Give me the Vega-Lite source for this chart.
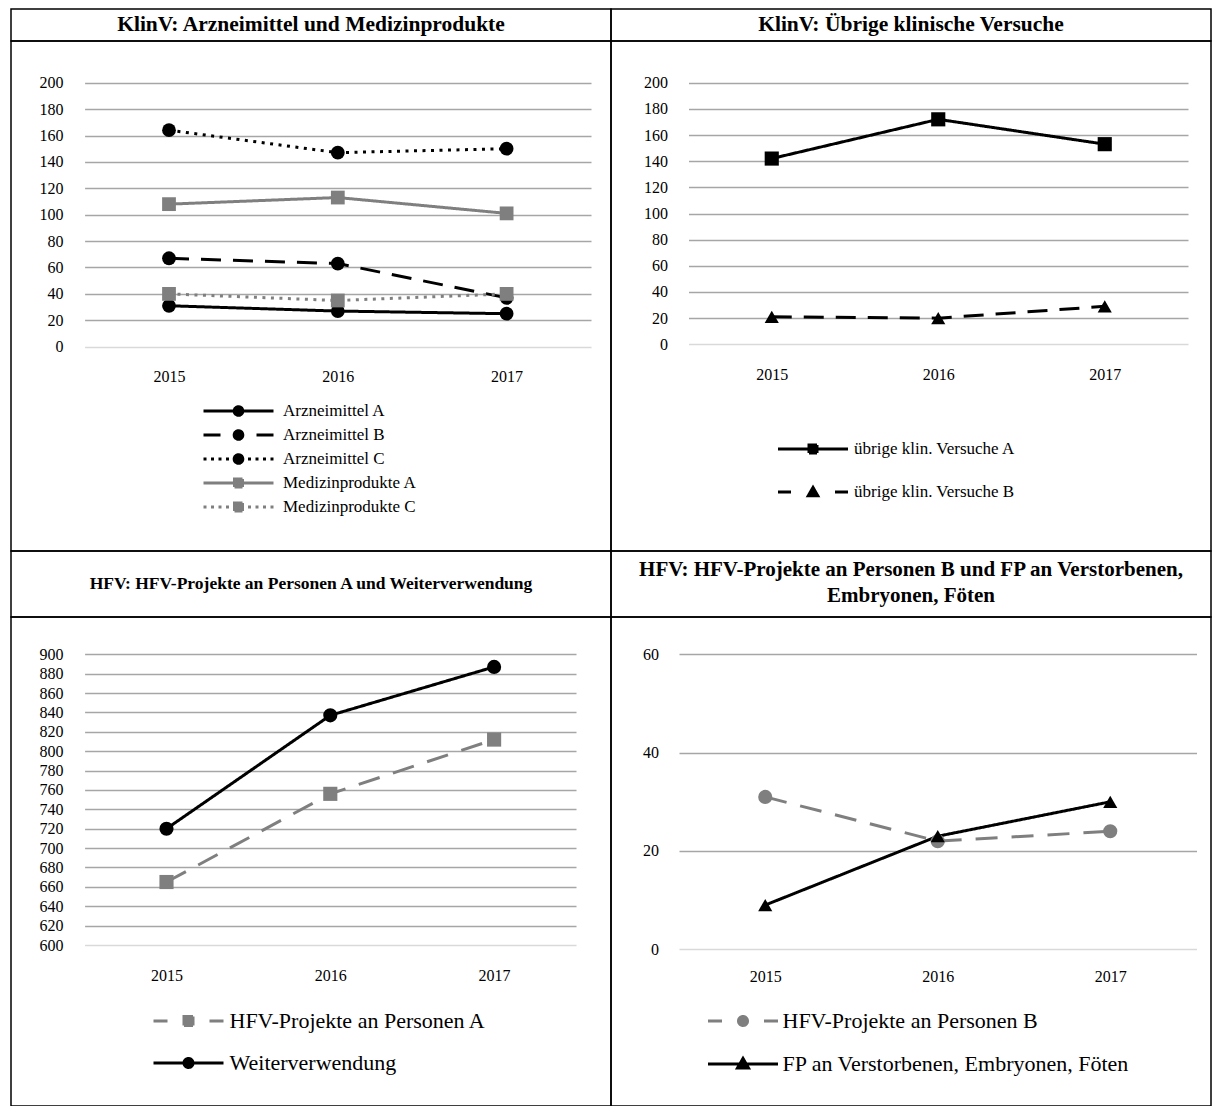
{
  "$schema": "https://vega.github.io/schema/vega-lite/v6.json",
  "background": "white",
  "padding": {"left": 10, "top": 8, "right": 0, "bottom": 0},
  "columns": 2,
  "spacing": 0,
  "bounds": "flush",
  "align": "each",
  "resolve": {
    "scale": {"x": "independent", "y": "independent", "color": "independent", "shape": "independent", "strokeDash": "independent", "opacity": "independent"},
    "axis": {"x": "independent", "y": "independent"},
    "legend": {"color": "independent", "shape": "independent", "strokeDash": "independent", "opacity": "independent"}
  },
  "datasets": {
    "p1": [
      {"series": "Arzneimittel A", "year": "2015", "value": 31},
      {"series": "Arzneimittel A", "year": "2016", "value": 27},
      {"series": "Arzneimittel A", "year": "2017", "value": 25},
      {"series": "Arzneimittel B", "year": "2015", "value": 67},
      {"series": "Arzneimittel B", "year": "2016", "value": 63},
      {"series": "Arzneimittel B", "year": "2017", "value": 37},
      {"series": "Arzneimittel C", "year": "2015", "value": 164},
      {"series": "Arzneimittel C", "year": "2016", "value": 147},
      {"series": "Arzneimittel C", "year": "2017", "value": 150},
      {"series": "Medizinprodukte A", "year": "2015", "value": 108},
      {"series": "Medizinprodukte A", "year": "2016", "value": 113},
      {"series": "Medizinprodukte A", "year": "2017", "value": 101},
      {"series": "Medizinprodukte C", "year": "2015", "value": 40},
      {"series": "Medizinprodukte C", "year": "2016", "value": 35},
      {"series": "Medizinprodukte C", "year": "2017", "value": 40}
    ],
    "p2": [
      {"series": "übrige klin. Versuche A", "year": "2015", "value": 142},
      {"series": "übrige klin. Versuche A", "year": "2016", "value": 172},
      {"series": "übrige klin. Versuche A", "year": "2017", "value": 153},
      {"series": "übrige klin. Versuche B", "year": "2015", "value": 21},
      {"series": "übrige klin. Versuche B", "year": "2016", "value": 20},
      {"series": "übrige klin. Versuche B", "year": "2017", "value": 29}
    ],
    "p3": [
      {"series": "HFV-Projekte an Personen A", "year": "2015", "value": 665},
      {"series": "HFV-Projekte an Personen A", "year": "2016", "value": 756},
      {"series": "HFV-Projekte an Personen A", "year": "2017", "value": 812},
      {"series": "Weiterverwendung", "year": "2015", "value": 720},
      {"series": "Weiterverwendung", "year": "2016", "value": 837},
      {"series": "Weiterverwendung", "year": "2017", "value": 887}
    ],
    "p4": [
      {"series": "HFV-Projekte an Personen B", "year": "2015", "value": 31},
      {"series": "HFV-Projekte an Personen B", "year": "2016", "value": 22},
      {"series": "HFV-Projekte an Personen B", "year": "2017", "value": 24},
      {"series": "FP an Verstorbenen, Embryonen, Föten", "year": "2015", "value": 9},
      {"series": "FP an Verstorbenen, Embryonen, Föten", "year": "2016", "value": 23},
      {"series": "FP an Verstorbenen, Embryonen, Föten", "year": "2017", "value": 30}
    ]
  },
  "concat": [
    {"width": 600, "height": 32, "data": {"values": [{"t": "KlinV: Arzneimittel und Medizinprodukte", "c": 0}]},
     "mark": {"type": "text", "font": "Liberation Serif", "fontWeight": "bold", "fontSize": 21.5, "align": "center", "baseline": "middle", "color": "black"},
     "encoding": {"text": {"field": "t"},
       "x": {"field": "c", "type": "quantitative", "axis": null, "scale": {"domain": [-1, 1]}},
       "y": {"field": "c", "type": "quantitative", "axis": null, "scale": {"domain": [-1, 1]}}}},
    {"width": 600, "height": 32, "data": {"values": [{"t": "KlinV: Übrige klinische Versuche", "c": 0}]},
     "mark": {"type": "text", "font": "Liberation Serif", "fontWeight": "bold", "fontSize": 21.5, "align": "center", "baseline": "middle", "color": "black"},
     "encoding": {"text": {"field": "t"},
       "x": {"field": "c", "type": "quantitative", "axis": null, "scale": {"domain": [-1, 1]}},
       "y": {"field": "c", "type": "quantitative", "axis": null, "scale": {"domain": [-1, 1]}}}},
    {
      "width": 600, "height": 510,
      "data": {"name": "p1"},
      "encoding": {
        "x": {"field": "year", "type": "ordinal", "scale": {"type": "point", "padding": 0.5, "range": [73.6, 580]},
              "axis": {"offset": -204.3, "labelPadding": 22, "grid": false}},
        "y": {"field": "value", "type": "quantitative", "scale": {"domain": [0, 200], "range": [305.7, 41.7], "nice": false, "zero": false},
              "axis": {"offset": -73.6, "labelPadding": 21.5, "values": [0, 20, 40, 60, 80, 100, 120, 140, 160, 180, 200], "grid": true,
                       "gridColor": {"condition": {"test": "datum.value === 0", "value": "#d9d9d9"}, "value": "#a6a6a6"}}},
        "color": {"field": "series", "type": "nominal", "legend": null,
                  "scale": {"domain": ["Arzneimittel A", "Arzneimittel B", "Arzneimittel C", "Medizinprodukte A", "Medizinprodukte C", "-"], "range": ["black", "black", "black", "#7f7f7f", "#7f7f7f", "black"]}},
        "opacity": {"field": "series", "type": "ordinal",
                  "scale": {"domain": ["Arzneimittel A", "Arzneimittel B", "Arzneimittel C", "Medizinprodukte A", "Medizinprodukte C"], "range": [1, 1]},
                  "legend": {"orient": "none", "legendX": 219, "legendY": 361.5, "labelFontSize": 17, "labelOffset": 36, "rowPadding": 3,
                    "encode": {"symbols": {"update": {
                      "shape": {"signal": "datum.value === 'Arzneimittel A' ? 'M-7,0H7M0.86,0A0.86,0.86,0,1,1,-0.86,0A0.86,0.86,0,1,1,0.86,0Z' : datum.value === 'Arzneimittel B' ? 'M-7,0H-3.6M3.6,0H7M0.86,0A0.86,0.86,0,1,1,-0.86,0A0.86,0.86,0,1,1,0.86,0Z' : datum.value === 'Arzneimittel C' ? 'M-7,0H-6.4M-5.5,0H-4.9M-4,0H-3.4M-2.5,0H-1.9M1.9,0H2.5M3.4,0H4M4.9,0H5.5M6.4,0H7M0.86,0A0.86,0.86,0,1,1,-0.86,0A0.86,0.86,0,1,1,0.86,0Z' : datum.value === 'Medizinprodukte A' ? 'M-7,0H7M-0.8,-0.8H0.8V0.8H-0.8Z' : 'M-7,0H-6.4M-5.5,0H-4.9M-4,0H-3.4M-2.5,0H-1.9M1.9,0H2.5M3.4,0H4M4.9,0H5.5M6.4,0H7M-0.8,-0.8H0.8V0.8H-0.8Z'"},
                      "size": {"value": 100},
                      "strokeWidth": {"value": 3},
                      "strokeDash": {"value": [1, 0]},
                      "fill": {"signal": "indexof(datum.value, 'Medizin') >= 0 ? '#7f7f7f' : 'black'"},
                      "stroke": {"signal": "indexof(datum.value, 'Medizin') >= 0 ? '#7f7f7f' : 'black'"}
                    }}}}}
      },
      "layer": [
        {"mark": {"type": "line", "strokeWidth": 3},
         "encoding": {"strokeDash": {"field": "series", "type": "nominal",
           "scale": {"domain": ["Arzneimittel A", "Arzneimittel B", "Arzneimittel C", "Medizinprodukte A", "Medizinprodukte C", "-"], "range": [[1, 0], [20, 12], [3, 5.5], [1, 0], [3, 5.5], [1, 0]]}, "legend": null}}},
        {"mark": {"type": "point", "filled": true, "size": 190},
         "encoding": {"shape": {"field": "series", "type": "nominal",
           "scale": {"domain": ["Arzneimittel A", "Arzneimittel B", "Arzneimittel C", "Medizinprodukte A", "Medizinprodukte C", "-"], "range": ["circle", "circle", "circle", "square", "square", "circle"]}, "legend": null}}}
      ]
    },
    {
      "width": 600, "height": 510,
      "data": {"name": "p2"},
      "encoding": {
        "x": {"field": "year", "type": "ordinal", "scale": {"type": "point", "padding": 0.5, "range": [77.5, 577]},
              "axis": {"offset": -206.7, "labelPadding": 22.5, "grid": false}},
        "y": {"field": "value", "type": "quantitative", "scale": {"domain": [0, 200], "range": [303.3, 41.7], "nice": false, "zero": false},
              "axis": {"offset": -77.5, "labelPadding": 21, "values": [0, 20, 40, 60, 80, 100, 120, 140, 160, 180, 200], "grid": true,
                       "gridColor": {"condition": {"test": "datum.value === 0", "value": "#d9d9d9"}, "value": "#a6a6a6"}}},
        "color": {"field": "series", "type": "nominal", "legend": null,
                  "scale": {"domain": ["übrige klin. Versuche A", "übrige klin. Versuche B", "-"], "range": ["black", "black", "black"]}},
        "opacity": {"field": "series", "type": "ordinal",
                  "scale": {"domain": ["übrige klin. Versuche A", "übrige klin. Versuche B"], "range": [1, 1]},
                  "legend": {"orient": "none", "legendX": 193.5, "legendY": 399.5, "labelFontSize": 17, "labelOffset": 32.5, "rowPadding": 22,
                    "encode": {"symbols": {"update": {
                      "shape": {"signal": "datum.value === 'übrige klin. Versuche A' ? 'M-7,0H7M-0.8,-0.8H0.8V0.8H-0.8Z' : 'M-7,0H-4.4M4.4,0H7M0,-0.9L0.95,0.75L-0.95,0.75Z'"},
                      "size": {"value": 100},
                      "strokeWidth": {"value": 3},
                      "strokeDash": {"value": [1, 0]},
                      "fill": {"value": "black"},
                      "stroke": {"value": "black"}
                    }}}}}
      },
      "layer": [
        {"mark": {"type": "line", "strokeWidth": 3},
         "encoding": {"strokeDash": {"field": "series", "type": "nominal",
           "scale": {"domain": ["übrige klin. Versuche A", "übrige klin. Versuche B", "-"], "range": [[1, 0], [20, 12], [1, 0]]}, "legend": null}}},
        {"mark": {"type": "point", "filled": true, "size": 200},
         "encoding": {"shape": {"field": "series", "type": "nominal",
           "scale": {"domain": ["übrige klin. Versuche A", "übrige klin. Versuche B", "-"], "range": ["square", "triangle-up", "circle"]}, "legend": null}}}
      ]
    },
    {"width": 600, "height": 66, "data": {"values": [{"t": "HFV: HFV-Projekte an Personen A und Weiterverwendung", "c": 0}]},
     "mark": {"type": "text", "font": "Liberation Serif", "fontWeight": "bold", "fontSize": 17.5, "align": "center", "baseline": "middle", "color": "black"},
     "encoding": {"text": {"field": "t"},
       "x": {"field": "c", "type": "quantitative", "axis": null, "scale": {"domain": [-1, 1]}},
       "y": {"field": "c", "type": "quantitative", "axis": null, "scale": {"domain": [-1, 1]}}}},
    {"width": 600, "height": 66, "data": {"values": [{"t": "HFV: HFV-Projekte an Personen B und FP an Verstorbenen,\nEmbryonen, Föten", "c": 0}]},
     "mark": {"type": "text", "font": "Liberation Serif", "fontWeight": "bold", "fontSize": 21, "align": "center", "baseline": "middle", "color": "black", "lineBreak": "\n", "lineHeight": 26, "dy": -14},
     "encoding": {"text": {"field": "t"},
       "x": {"field": "c", "type": "quantitative", "axis": null, "scale": {"domain": [-1, 1]}},
       "y": {"field": "c", "type": "quantitative", "axis": null, "scale": {"domain": [-1, 1]}}}},
    {
      "width": 600, "height": 489,
      "data": {"name": "p3"},
      "encoding": {
        "x": {"field": "year", "type": "ordinal", "scale": {"type": "point", "padding": 0.5, "range": [73.6, 565]},
              "axis": {"offset": -161, "labelPadding": 22.7, "grid": false}},
        "y": {"field": "value", "type": "quantitative", "scale": {"domain": [600, 900], "range": [328, 37.3], "nice": false, "zero": false},
              "axis": {"offset": -73.6, "labelPadding": 21.5, "values": [600, 620, 640, 660, 680, 700, 720, 740, 760, 780, 800, 820, 840, 860, 880, 900], "grid": true,
                       "gridColor": {"condition": {"test": "datum.value === 600", "value": "#d9d9d9"}, "value": "#a6a6a6"}}},
        "color": {"field": "series", "type": "nominal", "legend": null,
                  "scale": {"domain": ["HFV-Projekte an Personen A", "Weiterverwendung", "-"], "range": ["#7f7f7f", "black", "black"]}},
        "opacity": {"field": "series", "type": "ordinal",
                  "scale": {"domain": ["HFV-Projekte an Personen A", "Weiterverwendung"], "range": [1, 1]},
                  "legend": {"orient": "none", "legendX": 166.5, "legendY": 393, "labelFontSize": 22, "labelOffset": 30, "rowPadding": 20,
                    "encode": {"symbols": {"update": {
                      "shape": {"signal": "datum.value === 'HFV-Projekte an Personen A' ? 'M-7,0H-4.2M4.2,0H7M-0.9,-0.9H0.9V0.9H-0.9Z' : 'M-7,0H7M0.9,0A0.9,0.9,0,1,1,-0.9,0A0.9,0.9,0,1,1,0.9,0Z'"},
                      "size": {"value": 100},
                      "strokeWidth": {"value": 3},
                      "strokeDash": {"value": [1, 0]},
                      "fill": {"signal": "datum.value === 'HFV-Projekte an Personen A' ? '#7f7f7f' : 'black'"},
                      "stroke": {"signal": "datum.value === 'HFV-Projekte an Personen A' ? '#7f7f7f' : 'black'"}
                    }}}}}
      },
      "layer": [
        {"mark": {"type": "line", "strokeWidth": 3},
         "encoding": {"strokeDash": {"field": "series", "type": "nominal",
           "scale": {"domain": ["HFV-Projekte an Personen A", "Weiterverwendung", "-"], "range": [[22, 14], [1, 0], [1, 0]]}, "legend": null}}},
        {"mark": {"type": "point", "filled": true, "size": 200},
         "encoding": {"shape": {"field": "series", "type": "nominal",
           "scale": {"domain": ["HFV-Projekte an Personen A", "Weiterverwendung", "-"], "range": ["square", "circle", "circle"]}, "legend": null}}}
      ]
    },
    {
      "width": 600, "height": 489,
      "data": {"name": "p4"},
      "encoding": {
        "x": {"field": "year", "type": "ordinal", "scale": {"type": "point", "padding": 0.5, "range": [68, 585.5]},
              "axis": {"offset": -156.7, "labelPadding": 19.5, "grid": false}},
        "y": {"field": "value", "type": "quantitative", "scale": {"domain": [0, 60], "range": [332.3, 37.3], "nice": false, "zero": false},
              "axis": {"offset": -68, "labelPadding": 20.5, "values": [0, 20, 40, 60], "grid": true,
                       "gridColor": {"condition": {"test": "datum.value === 0", "value": "#d9d9d9"}, "value": "#a6a6a6"}}},
        "color": {"field": "series", "type": "nominal", "legend": null,
                  "scale": {"domain": ["HFV-Projekte an Personen B", "FP an Verstorbenen, Embryonen, Föten", "-"], "range": ["#7f7f7f", "black", "black"]}},
        "opacity": {"field": "series", "type": "ordinal",
                  "scale": {"domain": ["HFV-Projekte an Personen B", "FP an Verstorbenen, Embryonen, Föten"], "range": [1, 1]},
                  "legend": {"orient": "none", "legendX": 121, "legendY": 393, "labelFontSize": 22, "labelOffset": 28.5, "rowPadding": 20,
                    "encode": {"symbols": {"update": {
                      "shape": {"signal": "datum.value === 'HFV-Projekte an Personen B' ? 'M-7,0H-4.2M4.2,0H7M0.9,0A0.9,0.9,0,1,1,-0.9,0A0.9,0.9,0,1,1,0.9,0Z' : 'M-7,0H7M0,-1.1L1.1,0.8L-1.1,0.8Z'"},
                      "size": {"value": 100},
                      "strokeWidth": {"value": 3},
                      "strokeDash": {"value": [1, 0]},
                      "fill": {"signal": "datum.value === 'HFV-Projekte an Personen B' ? '#7f7f7f' : 'black'"},
                      "stroke": {"signal": "datum.value === 'HFV-Projekte an Personen B' ? '#7f7f7f' : 'black'"}
                    }}}}}
      },
      "layer": [
        {"mark": {"type": "line", "strokeWidth": 3},
         "encoding": {"strokeDash": {"field": "series", "type": "nominal",
           "scale": {"domain": ["HFV-Projekte an Personen B", "FP an Verstorbenen, Embryonen, Föten", "-"], "range": [[22, 14], [1, 0], [1, 0]]}, "legend": null}}},
        {"mark": {"type": "point", "filled": true, "size": 200},
         "encoding": {"shape": {"field": "series", "type": "nominal",
           "scale": {"domain": ["HFV-Projekte an Personen B", "FP an Verstorbenen, Embryonen, Föten", "-"], "range": ["circle", "triangle-up", "circle"]}, "legend": null}}}
      ]
    }
  ],
  "config": {
    "view": {"stroke": "black", "strokeWidth": 1.5},
    "axis": {"labelFont": "Liberation Serif", "labelFontSize": 16, "labelColor": "black", "ticks": false, "domain": false, "title": null, "labelAngle": 0, "gridColor": "#a6a6a6", "gridWidth": 1.5},
    "legend": {"labelFont": "Liberation Serif", "labelColor": "black", "title": null, "padding": 0, "symbolSize": 100, "symbolStrokeWidth": 3, "labelLimit": 0, "orient": "none"}
  }
}
